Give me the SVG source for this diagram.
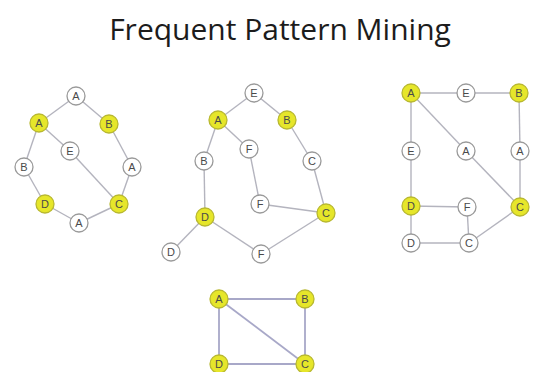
<svg xmlns="http://www.w3.org/2000/svg" width="534" height="372" viewBox="0 0 534 372">
  <style>
    .title { font-family: "Open Sans", "Liberation Sans", sans-serif; font-size: 30px; fill: #1c1c1c; }
    .edges line { stroke: #b4b4be; stroke-width: 1.4; }
    .edges.strong line { stroke: #a8a8c8; stroke-width: 1.8; }
    .n circle { fill: #ffffff; stroke: #9a9a9a; stroke-width: 1.3; }
    .n.y circle { fill: #e6e62a; stroke: #b8b830; }
    .n text { font-family: "Liberation Sans", Arial, sans-serif; font-size: 11px; fill: #4a4a4a; text-anchor: middle; dominant-baseline: central; }
  </style>
  <rect width="534" height="372" fill="#ffffff"/>
  <text class="title" x="280" y="40" text-anchor="middle">Frequent Pattern Mining</text>

  <!-- connectors -->
  <g id="connectors">
    <g class="edges">
      <!-- graph 1 -->
      <line x1="76" y1="96" x2="39" y2="123"/>
      <line x1="76" y1="96" x2="109" y2="124"/>
      <line x1="39" y1="123" x2="24" y2="167"/>
      <line x1="39" y1="123" x2="70" y2="151"/>
      <line x1="70" y1="151" x2="119" y2="204"/>
      <line x1="24" y1="167" x2="45" y2="204"/>
      <line x1="45" y1="204" x2="79" y2="223"/>
      <line x1="79" y1="223" x2="119" y2="204"/>
      <line x1="119" y1="204" x2="132" y2="167"/>
      <line x1="132" y1="167" x2="109" y2="124"/>
      <!-- graph 2 -->
      <line x1="254" y1="93" x2="218" y2="120"/>
      <line x1="254" y1="93" x2="287" y2="120"/>
      <line x1="218" y1="120" x2="249" y2="149"/>
      <line x1="218" y1="120" x2="204" y2="161"/>
      <line x1="204" y1="161" x2="205" y2="217"/>
      <line x1="249" y1="149" x2="260" y2="204"/>
      <line x1="260" y1="204" x2="326" y2="213"/>
      <line x1="326" y1="213" x2="312" y2="161"/>
      <line x1="312" y1="161" x2="287" y2="120"/>
      <line x1="205" y1="217" x2="171" y2="252"/>
      <line x1="205" y1="217" x2="261" y2="254"/>
      <line x1="261" y1="254" x2="326" y2="213"/>
      <!-- graph 3 -->
      <line x1="411" y1="93" x2="466" y2="93"/>
      <line x1="466" y1="93" x2="519" y2="93"/>
      <line x1="411" y1="93" x2="411" y2="151"/>
      <line x1="411" y1="93" x2="466" y2="151"/>
      <line x1="466" y1="151" x2="520" y2="207"/>
      <line x1="519" y1="93" x2="520" y2="151"/>
      <line x1="520" y1="151" x2="520" y2="207"/>
      <line x1="411" y1="151" x2="411" y2="206"/>
      <line x1="411" y1="206" x2="467" y2="207"/>
      <line x1="411" y1="206" x2="411" y2="243"/>
      <line x1="411" y1="243" x2="469" y2="243"/>
      <line x1="467" y1="207" x2="469" y2="243"/>
      <line x1="469" y1="243" x2="520" y2="207"/>
    </g>
    <g class="edges strong">
      <!-- graph 4 -->
      <line x1="219" y1="299" x2="305" y2="299"/>
      <line x1="219" y1="299" x2="219" y2="364"/>
      <line x1="219" y1="299" x2="305" y2="364"/>
      <line x1="305" y1="299" x2="305" y2="364"/>
      <line x1="219" y1="364" x2="305" y2="364"/>
    </g>
  </g>

  <!-- graph 1 nodes -->
  <g id="g1-a-top" class="n"><circle cx="76" cy="96" r="9"/><text x="76" y="96">A</text></g>
  <g id="g1-a" class="n y"><circle cx="39" cy="123" r="9"/><text x="39" y="123">A</text></g>
  <g id="g1-b" class="n y"><circle cx="109" cy="124" r="9"/><text x="109" y="124">B</text></g>
  <g id="g1-e" class="n"><circle cx="70" cy="151" r="9"/><text x="70" y="151">E</text></g>
  <g id="g1-b-left" class="n"><circle cx="24" cy="167" r="9"/><text x="24" y="167">B</text></g>
  <g id="g1-a-right" class="n"><circle cx="132" cy="167" r="9"/><text x="132" y="167">A</text></g>
  <g id="g1-d" class="n y"><circle cx="45" cy="204" r="9"/><text x="45" y="204">D</text></g>
  <g id="g1-c" class="n y"><circle cx="119" cy="204" r="9"/><text x="119" y="204">C</text></g>
  <g id="g1-a-bottom" class="n"><circle cx="79" cy="223" r="9"/><text x="79" y="223">A</text></g>

  <!-- graph 2 nodes -->
  <g id="g2-e" class="n"><circle cx="254" cy="93" r="9"/><text x="254" y="93">E</text></g>
  <g id="g2-a" class="n y"><circle cx="218" cy="120" r="9"/><text x="218" y="120">A</text></g>
  <g id="g2-b" class="n y"><circle cx="287" cy="120" r="9"/><text x="287" y="120">B</text></g>
  <g id="g2-f1" class="n"><circle cx="249" cy="149" r="9"/><text x="249" y="149">F</text></g>
  <g id="g2-b-left" class="n"><circle cx="204" cy="161" r="9"/><text x="204" y="161">B</text></g>
  <g id="g2-c-right" class="n"><circle cx="312" cy="161" r="9"/><text x="312" y="161">C</text></g>
  <g id="g2-f2" class="n"><circle cx="260" cy="204" r="9"/><text x="260" y="204">F</text></g>
  <g id="g2-c" class="n y"><circle cx="326" cy="213" r="9"/><text x="326" y="213">C</text></g>
  <g id="g2-d" class="n y"><circle cx="205" cy="217" r="9"/><text x="205" y="217">D</text></g>
  <g id="g2-d-small" class="n"><circle cx="171" cy="252" r="9"/><text x="171" y="252">D</text></g>
  <g id="g2-f3" class="n"><circle cx="261" cy="254" r="9"/><text x="261" y="254">F</text></g>

  <!-- graph 3 nodes -->
  <g id="g3-a" class="n y"><circle cx="411" cy="93" r="9"/><text x="411" y="93">A</text></g>
  <g id="g3-e-top" class="n"><circle cx="466" cy="93" r="9"/><text x="466" y="93">E</text></g>
  <g id="g3-b" class="n y"><circle cx="519" cy="93" r="9"/><text x="519" y="93">B</text></g>
  <g id="g3-e-left" class="n"><circle cx="411" cy="151" r="9"/><text x="411" y="151">E</text></g>
  <g id="g3-a-mid" class="n"><circle cx="466" cy="151" r="9"/><text x="466" y="151">A</text></g>
  <g id="g3-a-right" class="n"><circle cx="520" cy="151" r="9"/><text x="520" y="151">A</text></g>
  <g id="g3-d" class="n y"><circle cx="411" cy="206" r="9"/><text x="411" y="206">D</text></g>
  <g id="g3-f" class="n"><circle cx="467" cy="207" r="9"/><text x="467" y="207">F</text></g>
  <g id="g3-c" class="n y"><circle cx="520" cy="207" r="9"/><text x="520" y="207">C</text></g>
  <g id="g3-d-bottom" class="n"><circle cx="411" cy="243" r="9"/><text x="411" y="243">D</text></g>
  <g id="g3-c-bottom" class="n"><circle cx="469" cy="243" r="9"/><text x="469" y="243">C</text></g>

  <!-- graph 4 nodes -->
  <g id="g4-a" class="n y"><circle cx="219" cy="299" r="9"/><text x="219" y="299">A</text></g>
  <g id="g4-b" class="n y"><circle cx="305" cy="299" r="9"/><text x="305" y="299">B</text></g>
  <g id="g4-d" class="n y"><circle cx="219" cy="364" r="9"/><text x="219" y="364">D</text></g>
  <g id="g4-c" class="n y"><circle cx="305" cy="364" r="9"/><text x="305" y="364">C</text></g>
</svg>
